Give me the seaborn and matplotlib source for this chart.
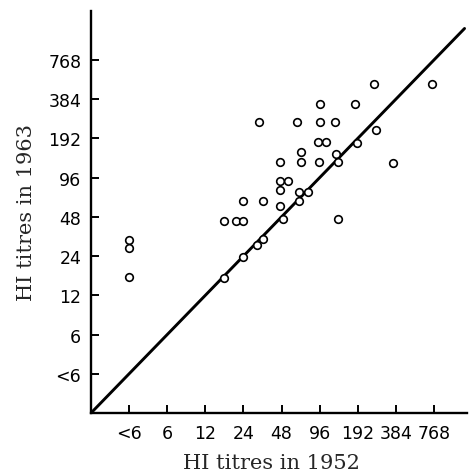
import numpy as np
import pandas as pd
import matplotlib
matplotlib.use("Agg")
import matplotlib.pyplot as plt
import seaborn as sns

# HI titres ("<6" is drawn at 3)
titre_1952 = [32, 64, 96, 128, 96, 184, 256, 740, 268, 189, 94, 108,
              68, 129, 47, 68, 95, 134, 363, 47, 54, 47, 66, 77,
              24, 34, 47, 66, 17, 21, 24, 49, 133, 34, 31, 24, 17,
              3, 3, 3]
titre_1963 = [256, 256, 256, 256, 350, 350, 500, 500, 224, 177, 181, 180,
              150, 146, 127, 126, 126, 126, 125, 91, 91, 77, 74, 74,
              63, 64, 58, 63, 45, 45, 45, 46, 46, 32.5, 29, 23.5, 16.3,
              32, 27.6, 16.5]

tick_values = [3, 6, 12, 24, 48, 96, 192, 384, 768]
tick_labels = ["<6", "6", "12", "24", "48", "96", "192", "384", "768"]

# line of equality
line_x = [1.5, 1340]
line_y = [1.5, 1340]

df = pd.DataFrame({"x": titre_1952, "y": titre_1963})

sns.set_theme(style="ticks")
plt.rcParams["font.family"] = ["DejaVu Sans"]

fig = plt.figure(figsize=(4.69, 4.77), dpi=100)
ax = fig.add_axes([0.194, 0.132, 0.802, 0.843])

sns.lineplot(x=line_x, y=line_y, ax=ax, color="black", linewidth=2.1)
sns.scatterplot(data=df, x="x", y="y", ax=ax, marker="o", s=30,
                facecolor="white", edgecolor="black", linewidth=1.2, zorder=3)

ax.set_xscale("log", base=2)
ax.set_yscale("log", base=2)
ax.set_xlim(1.5, 1404)
ax.set_ylim(1.5, 1827)

ax.set_xticks(tick_values)
ax.set_xticklabels(tick_labels)
ax.set_yticks(tick_values)
ax.set_yticklabels(tick_labels)
ax.minorticks_off()

ax.tick_params(axis="both", direction="in", length=6, width=1.4,
               labelsize=12.5, colors="black")
ax.tick_params(axis="x", pad=8)
ax.tick_params(axis="y", pad=7)

for side in ["top", "right"]:
    ax.spines[side].set_visible(False)
for side in ["left", "bottom"]:
    ax.spines[side].set_linewidth(1.7)
    ax.spines[side].set_color("black")

ax.set_xlabel("HI titres in 1952", family="DejaVu Serif", fontsize=15, labelpad=8)
ax.set_ylabel("HI titres in 1963", family="DejaVu Serif", fontsize=15, labelpad=9)
ax.xaxis.label.set_x(0.479)

fig.savefig("out.png", dpi=100)
